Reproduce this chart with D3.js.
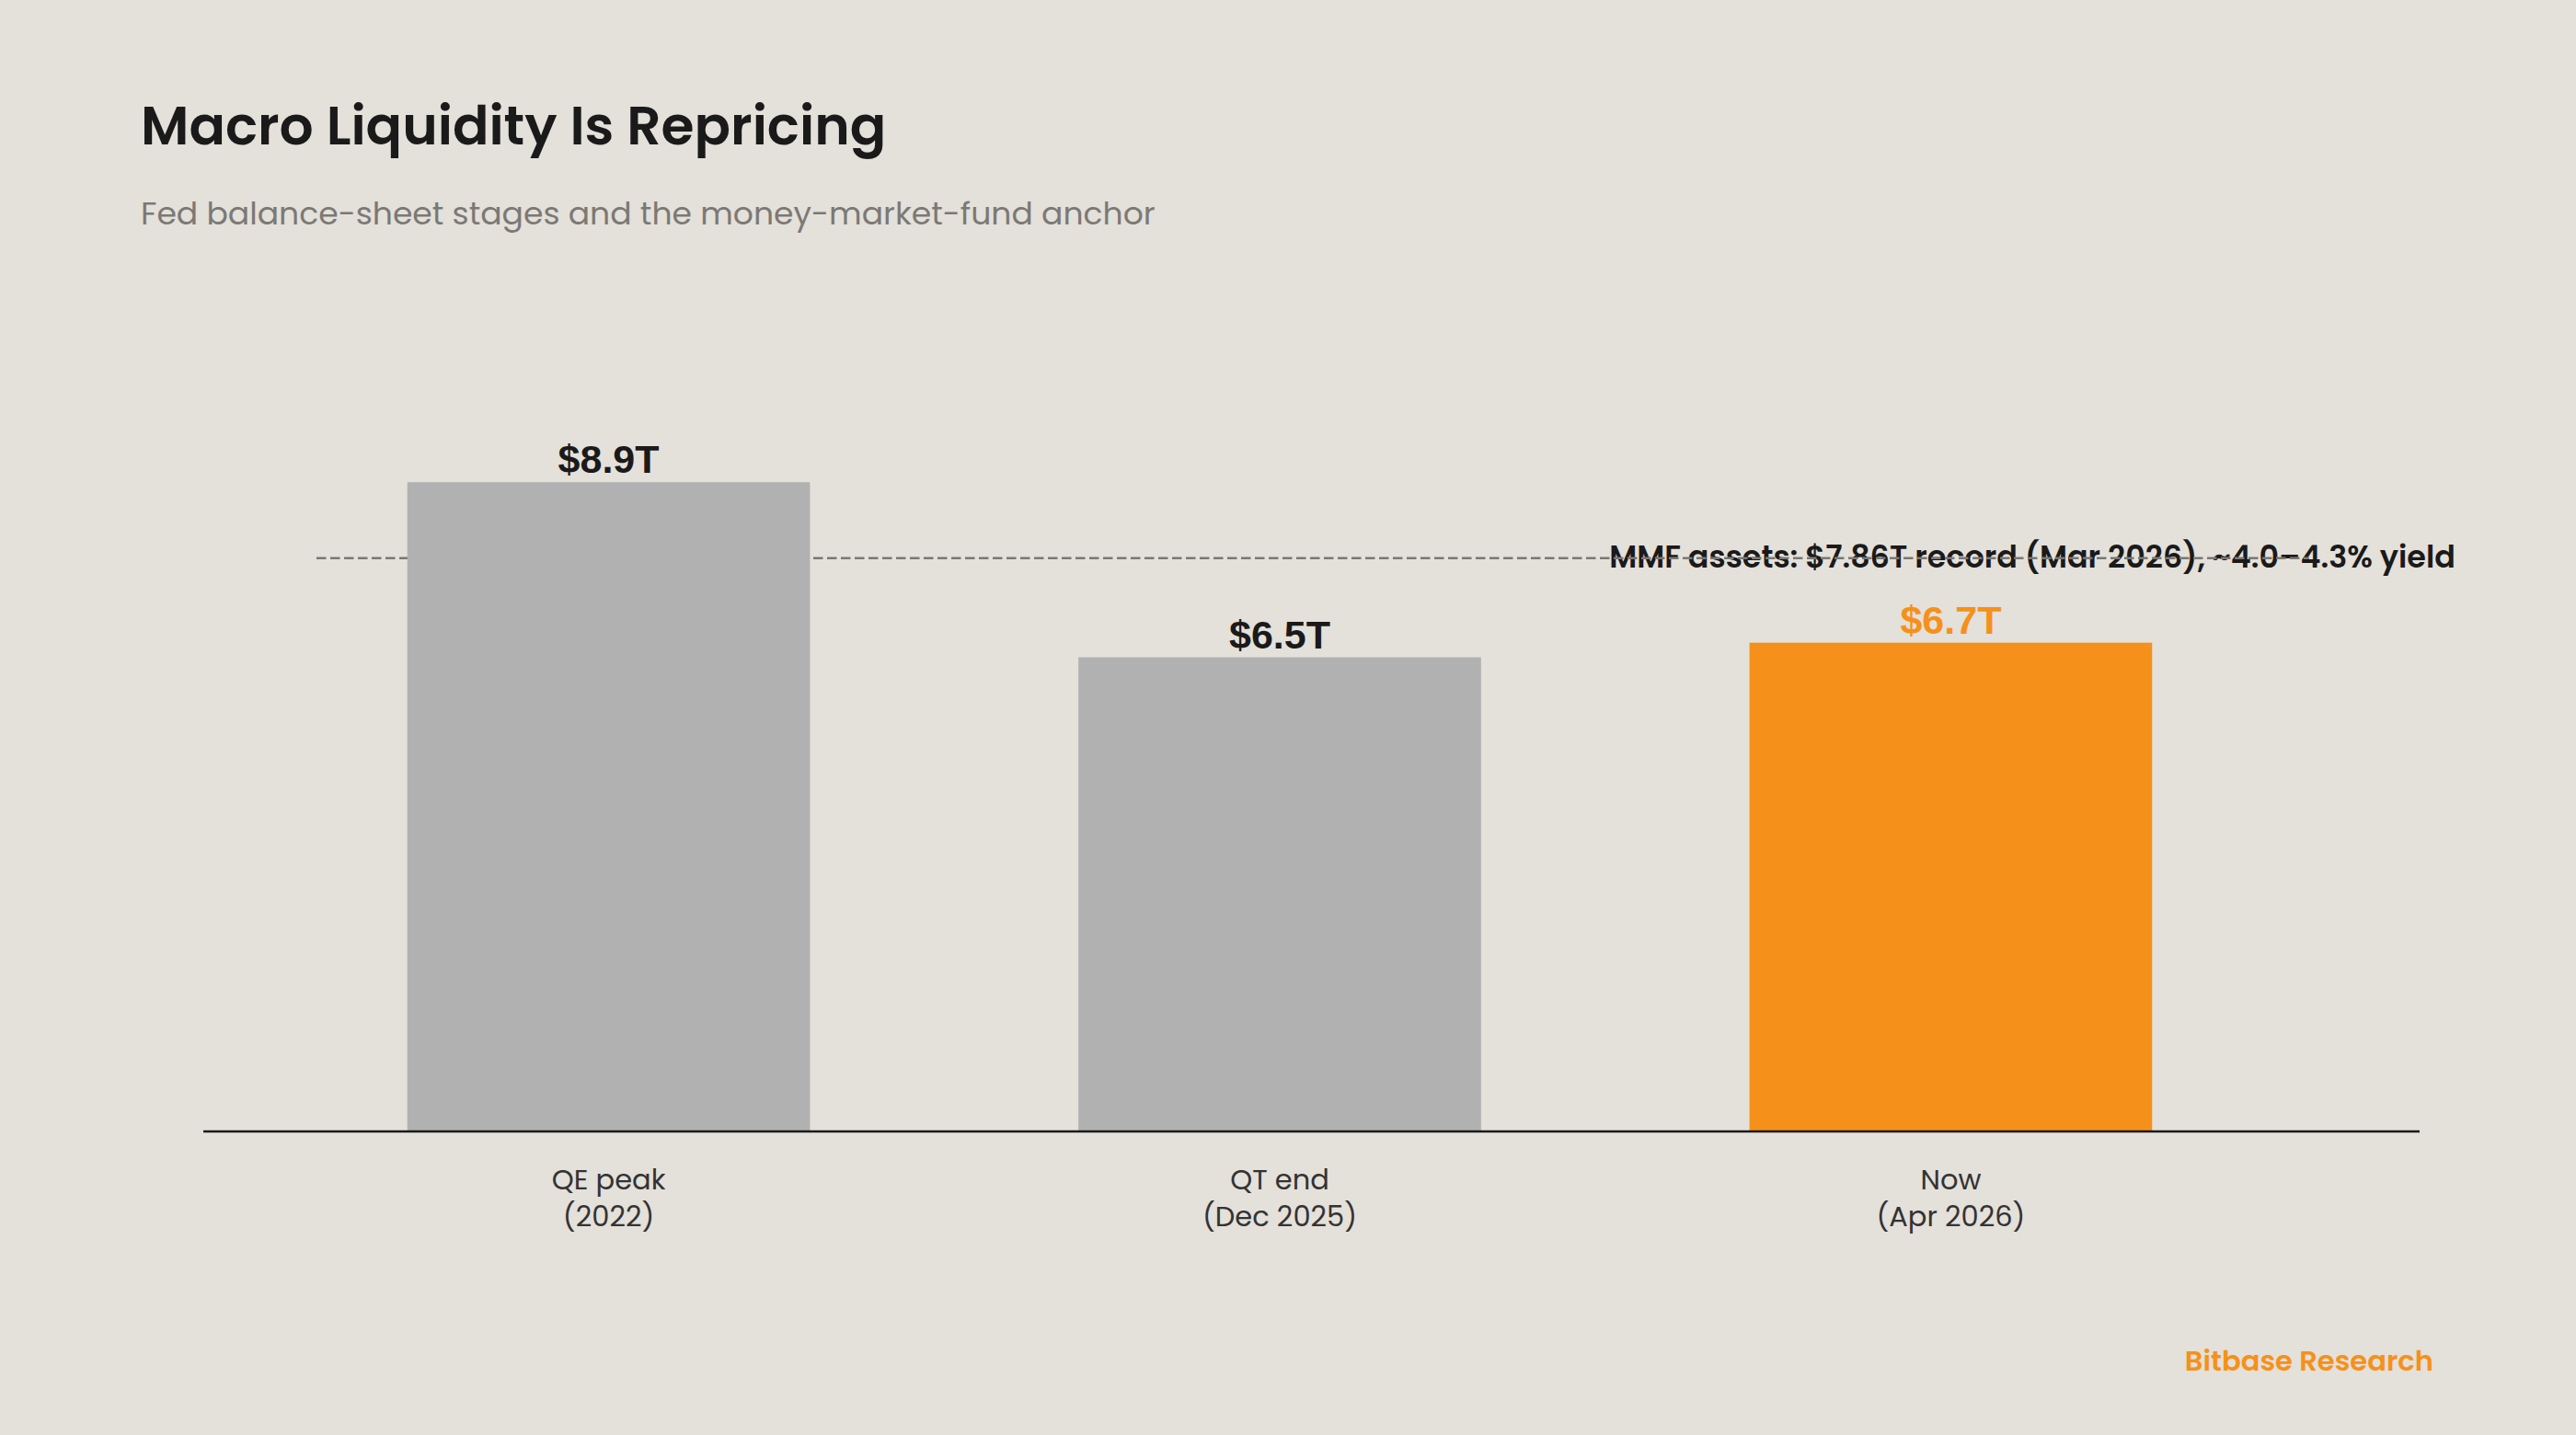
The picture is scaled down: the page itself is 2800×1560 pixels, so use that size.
<!DOCTYPE html>
<meta charset="utf-8">
<style>
  body { margin: 0; background: #e4e0da; }
  .title { font-family: 'Poppins', 'Inter', sans-serif; font-weight: 600; fill: #1a1a1a; }
  .subtitle { font-family: 'Poppins', 'Inter', sans-serif; font-weight: 400; fill: #7b7975; }
  .tick text { font-family: 'Poppins', 'Inter', sans-serif; fill: #333; }
  .value { font-family: 'Liberation Sans', Arial, sans-serif; font-weight: 700; }
</style>
<body>
<script src="https://d3js.org/d3.v7.min.js"></script>
<script>
// data
const stages = ["QE peak", "QT end", "Now"];
const stageDates = ["(2022)", "(Dec 2025)", "(Apr 2026)"];
const balance = [8.9, 6.5, 6.7];
const balanceLabels = ["$8.9T", "$6.5T", "$6.7T"];
const highlighted = ["Now"];
const mmfAssets = 7.86;
const mmfLabel = "MMF assets: $7.86T record (Mar 2026), ~4.0\u20134.3% yield";

const W = 2800, H = 1560;
const axisLeft = 221, axisRight = 2630, baseY = 1230;
const grey = "#b1b1b1", orange = "#f5911a";

const svg = d3.select("body").append("svg")
  .attr("width", W).attr("height", H);

svg.append("rect").attr("width", W).attr("height", H).attr("fill", "#e4e0da");

// titles
svg.append("text").attr("class", "title")
  .attr("x", 153).attr("y", 157).attr("font-size", 58.3)
  .text("Macro Liquidity Is Repricing");
svg.append("text").attr("class", "subtitle")
  .attr("x", 153).attr("y", 244).attr("font-size", 34.6)
  .text("Fed balance-sheet stages and the money-market-fund anchor");

// scales
const x = d3.scaleBand().domain(stages)
  .range([axisLeft, 2561]).paddingInner(0.4).paddingOuter(0.304);
const y = d3.scaleLinear().domain([0, 10]).range([baseY, 437]);

// MMF annotation (text under the dashed line)
svg.append("text").attr("class", "title")
  .attr("x", 2209).attr("y", 617).attr("font-size", 33.4)
  .attr("text-anchor", "middle")
  .text(mmfLabel);

svg.append("line")
  .attr("x1", 344).attr("x2", 2510)
  .attr("y1", y(mmfAssets)).attr("y2", y(mmfAssets))
  .attr("stroke", "#7a7875").attr("stroke-width", 2.5)
  .attr("stroke-dasharray", "10.5,4.5");

// bars
svg.selectAll(".bar")
  .data(stages)
  .join("rect")
  .attr("class", "bar")
  .attr("x", d => x(d))
  .attr("width", x.bandwidth())
  .attr("y", (d, i) => y(balance[i]))
  .attr("height", (d, i) => y(0) - y(balance[i]))
  .attr("fill", d => highlighted.includes(d) ? orange : grey);

svg.selectAll(".value")
  .data(stages)
  .join("text")
  .attr("class", "value")
  .attr("x", d => x(d) + x.bandwidth() / 2)
  .attr("y", (d, i) => y(balance[i]) - 10)
  .attr("text-anchor", "middle")
  .attr("font-size", 43)
  .attr("fill", d => highlighted.includes(d) ? orange : "#1a1a1a")
  .text((d, i) => balanceLabels[i]);

// x axis
const xAxis = svg.append("g")
  .attr("transform", "translate(0," + baseY + ")")
  .call(d3.axisBottom(x).tickSize(0).tickPadding(0));
xAxis.select(".domain").remove();
xAxis.selectAll(".tick text").each(function (d, i) {
  const t = d3.select(this).text(null)
    .attr("font-size", 30.5).attr("dy", null).attr("y", 63);
  t.append("tspan").attr("x", 0).attr("y", 63).text(stages[i]);
  t.append("tspan").attr("x", 0).attr("y", 103).text(stageDates[i]);
});

svg.append("line")
  .attr("x1", axisLeft).attr("x2", axisRight)
  .attr("y1", baseY).attr("y2", baseY)
  .attr("stroke", "#1a1a1a").attr("stroke-width", 2.5);

// footer
svg.append("text").attr("class", "title")
  .attr("x", 2645).attr("y", 1490).attr("font-size", 30.6)
  .attr("text-anchor", "end")
  .style("fill", orange)
  .text("Bitbase Research");
</script>
</body>
